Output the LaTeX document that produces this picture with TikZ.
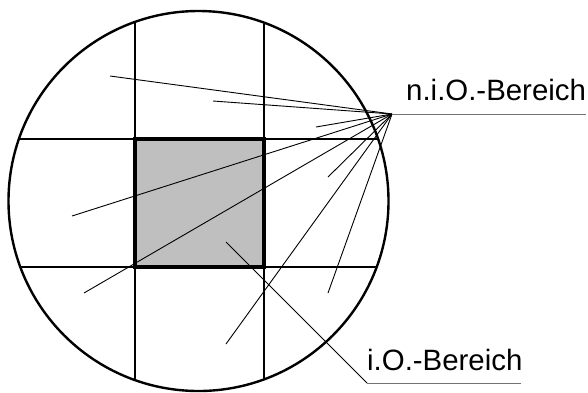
\documentclass[tikz,border=0pt]{standalone}
\usepackage{fontspec}
\setmainfont{Liberation Sans}
\begin{document}
\begin{tikzpicture}[x=1pt,y=-1pt,
  gridline/.style={line width=1.8pt,black},
  thin/.style={line width=0.9pt,black},
  leader/.style={line width=1pt,black!55},
  lbl/.style={font=\fontsize{29.4}{34}\selectfont,inner sep=0pt,anchor=base west}]
\useasboundingbox (0,0) rectangle (588,392);
% filled square
\fill[black!25] (135,139) rectangle (264,267);
% circle
\draw[line width=2.4pt] (198.5,201) circle (190);
% grid lines clipped to circle
\begin{scope}
\clip (198.5,201) circle (189);
\draw[gridline] (135,0) -- (135,392);
\draw[gridline] (264,0) -- (264,392);
\draw[gridline] (0,139) -- (392,139);
\draw[gridline] (0,267) -- (392,267);
\end{scope}
\draw[line width=3.6pt] (135,139) rectangle (264,267);
% n.i.O. fan
\coordinate (f) at (392,114);
\foreach \p in {(110,76),(213,101),(316,127),(72,216),(84,293),(328,177),(226,344),(328,293)}
  \draw[thin] (f) -- \p;
\coordinate (fe) at (586,114);
\draw[leader] (f) -- (fe);
\node[lbl] (nio) at (406,100) {n.i.O.-Bereich};
% i.O.
\coordinate (a) at (226,242);
\coordinate (b) at (367,383);
\coordinate (be) at (521,383);
\draw[thin] (a) -- (b);
\draw[leader] (b) -- (be);
\node[lbl] (io) at (367,370) {i.O.-Bereich};
\end{tikzpicture}
\end{document}
